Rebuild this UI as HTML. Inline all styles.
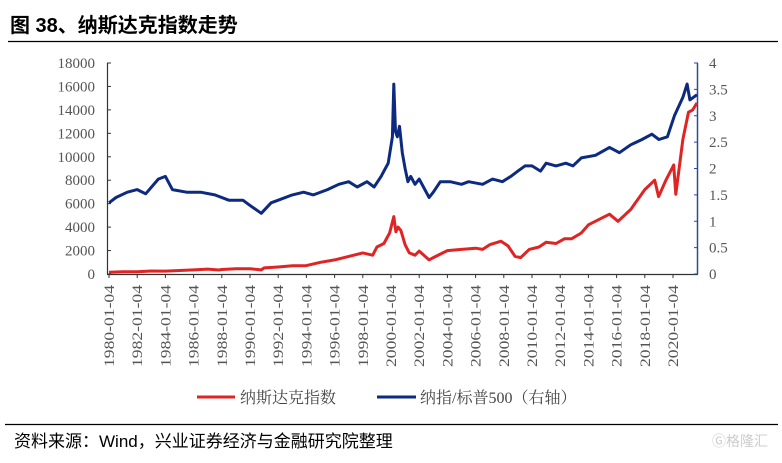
<!DOCTYPE html>
<html><head><meta charset="utf-8"><style>
body{margin:0;background:#fff;width:782px;height:458px;overflow:hidden;font-family:"Liberation Serif","Noto Serif CJK SC",serif;}
</style></head><body>
<svg width="782" height="458" xmlns="http://www.w3.org/2000/svg">
<text x="10" y="32" font-size="20" font-weight="bold" font-family="'Liberation Sans','Noto Sans CJK SC',sans-serif" fill="#000">图 38、纳斯达克指数走势</text>
<line x1="8" y1="41.5" x2="778" y2="41.5" stroke="#000" stroke-width="1.2"/>
<g id="axes"></g>
<g id="series"></g>
<g>
<line x1="197" y1="397" x2="235" y2="397" stroke="#e02424" stroke-width="3"/>
<text x="240" y="403" font-size="16" fill="#444" font-family="'Liberation Serif','Noto Serif CJK SC',serif">纳斯达克指数</text>
<line x1="377" y1="397" x2="416" y2="397" stroke="#0c2a80" stroke-width="3"/>
<text x="420" y="403" font-size="16" fill="#444" font-family="'Liberation Serif','Noto Serif CJK SC',serif">纳指/标普500（右轴）</text>
</g>
<line x1="5" y1="424.5" x2="778" y2="424.5" stroke="#000" stroke-width="1.2"/>
<text x="14" y="447" font-size="17" fill="#000" font-family="'Liberation Sans','Noto Sans CJK SC',sans-serif">资料来源：Wind，兴业证券经济与金融研究院整理</text>
<text x="712" y="446" font-size="14" fill="#ccc" font-family="'Liberation Sans','Noto Sans CJK SC',sans-serif">Ⓖ格隆汇</text>
</svg>
<script>
const years=[1980,1982,1984,1986,1988,1990,1992,1994,1996,1998,2000,2002,2004,2006,2008,2010,2012,2014,2016,2018,2020];
const leftTicks=[0,2000,4000,6000,8000,10000,12000,14000,16000,18000];
const rightTicks=[0,0.5,1,1.5,2,2.5,3,3.5,4];
const nasdaqDates=[1980,1981,1982,1983,1984,1985,1986,1987,1987.8,1988,1989,1990,1990.8,1991,1992,1993,1994,1995,1996,1997,1998,1998.7,1999,1999.5,1999.9,2000.2,2000.35,2000.5,2000.7,2001,2001.3,2001.7,2002,2002.7,2003,2003.5,2004,2005,2006,2006.5,2007,2007.8,2008.3,2008.8,2009.2,2009.8,2010.5,2011,2011.7,2012.3,2012.8,2013.5,2014,2015,2015.5,2016.1,2017,2018,2018.7,2018.98,2019.5,2020.05,2020.2,2020.7,2021.1,2021.4,2021.7];
const nasdaqValues=[150,200,190,260,250,300,350,420,340,380,450,450,350,520,600,700,720,1000,1200,1500,1800,1600,2300,2600,3500,4900,3600,4000,3700,2500,1800,1600,1950,1200,1400,1700,2000,2100,2200,2100,2500,2800,2400,1500,1400,2100,2300,2700,2600,3000,3000,3500,4200,4800,5100,4500,5500,7200,8000,6600,8000,9300,6800,11500,13800,14000,14600];
const ratioDates=[1980,1980.5,1981.3,1982,1982.6,1983.5,1984,1984.5,1985.5,1986.5,1987.5,1988.5,1989.5,1990,1990.8,1991.5,1992,1993,1993.8,1994.5,1995.5,1996.3,1997,1997.6,1998.3,1998.8,1999.3,1999.8,2000.1,2000.2,2000.32,2000.45,2000.6,2000.8,2001,2001.2,2001.4,2001.7,2002,2002.7,2003,2003.5,2004.2,2005,2005.5,2006.5,2007.2,2007.9,2008.5,2009,2009.5,2010,2010.6,2011,2011.7,2012.4,2012.9,2013.5,2014.5,2015.5,2016.2,2017,2017.8,2018.5,2019,2019.6,2020.1,2020.7,2021,2021.2,2021.7];
const ratioValues=[1.35,1.45,1.55,1.6,1.52,1.8,1.85,1.6,1.55,1.55,1.5,1.4,1.4,1.3,1.15,1.35,1.4,1.5,1.55,1.5,1.6,1.7,1.75,1.65,1.75,1.65,1.85,2.1,2.6,3.6,2.7,2.6,2.8,2.3,2.0,1.75,1.85,1.7,1.8,1.45,1.55,1.75,1.75,1.7,1.75,1.7,1.8,1.75,1.85,1.95,2.05,2.05,1.95,2.1,2.05,2.1,2.05,2.2,2.25,2.4,2.3,2.45,2.55,2.65,2.55,2.6,3.0,3.35,3.6,3.3,3.4];
const X0=109,PX=14.1,YT=63,YB=274;
const xS=d=>X0+(d-1980)*PX;
const yL=v=>YB-(v/18000)*(YB-YT);
const yR=v=>YB-(v/4)*(YB-YT);
const NS="http://www.w3.org/2000/svg";
const axes=document.getElementById('axes'),series=document.getElementById('series');
function mk(tag,attrs,parent){const e=document.createElementNS(NS,tag);for(const k in attrs)e.setAttribute(k,attrs[k]);parent.appendChild(e);return e;}
let e=mk('line',{x1:107.5,y1:YT,x2:107.5,y2:YB,stroke:'#333','stroke-width':1.2},axes);


e=mk('line',{x1:697.5,y1:YT,x2:697.5,y2:YB,stroke:'#2a4a9a','stroke-width':1.5},axes);


e=mk('line',{x1:107,y1:YB+0.5,x2:698,y2:YB+0.5,stroke:'#333','stroke-width':1.2},axes);


leftTicks.forEach(t=>{const y=yL(t);
 mk('line',{x1:107,y1:y,x2:111,y2:y,stroke:'#333'},axes);
 const tx=mk('text',{x:95,y:y+5,'font-size':15,'text-anchor':'end',fill:'#555'},axes);tx.textContent=t;
 
 });
rightTicks.forEach(t=>{const y=yR(t);
 mk('line',{x1:694,y1:y,x2:698,y2:y,stroke:'#2a4a9a'},axes);
 const tx=mk('text',{x:709,y:y+5,'font-size':15,fill:'#555'},axes);tx.textContent=t;
 
 });
years.forEach(yr=>{const x=xS(yr);
 mk('line',{x1:x,y1:YB,x2:x,y2:YB+4,stroke:'#333'},axes);
 const tx=mk('text',{x:0,y:0,'font-size':15,'text-anchor':'end',textLength:82,lengthAdjust:'spacingAndGlyphs',fill:'#555',transform:`translate(${x+5},${YB+11}) rotate(-90)`},axes);
 tx.textContent=yr+'-01-04';
 
 });
function path(ds,vs,ys,col,name){let d='';ds.forEach((t,i)=>{d+=(i?'L':'M')+xS(t).toFixed(1)+','+ys(vs[i]).toFixed(1);});
 const p=mk('path',{d:d,fill:'none',stroke:col,'stroke-width':3,'stroke-linejoin':'round'},series);
 
 }
path(nasdaqDates,nasdaqValues,yL,'#e02424','nasdaq-line');
path(ratioDates,ratioValues,yR,'#0c2a80','ratio-line');
</script>
</body></html>
